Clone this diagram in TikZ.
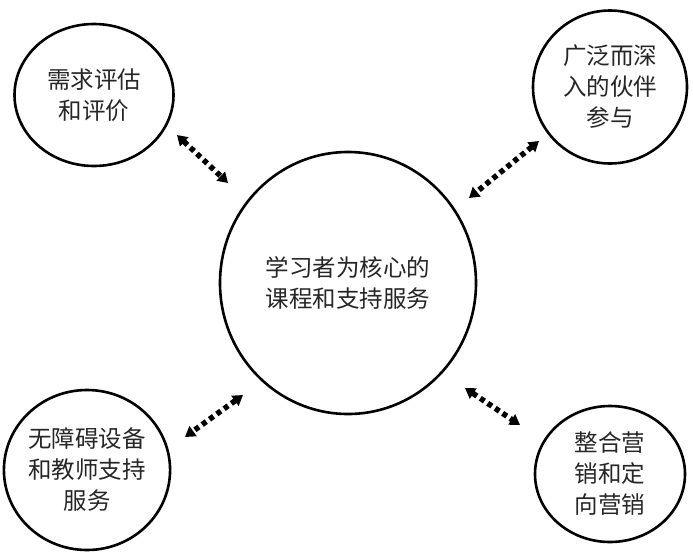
\documentclass[tikz,border=0pt]{standalone}
\usepackage{fontspec}
\newfontfamily\cjk{Noto Sans CJK SC}
\usetikzlibrary{arrows.meta,shapes.geometric}
\begin{document}
\begin{tikzpicture}[x=1pt,y=-1pt,
  bubble/.style={draw, line width=2.6pt, ellipse, inner sep=0pt, align=center,
    font=\cjk\fontsize{23.5}{31}\selectfont, text=black!85},
  arr/.style={line width=5.5pt, dash pattern=on 5pt off 4pt,
    {Triangle[length=10pt,width=12pt]}-{Triangle[length=10pt,width=12pt]}}]
\useasboundingbox (0,0) rectangle (693,552);
\fill[white] (0,0) rectangle (693,552);
\node[bubble, minimum width=256pt, minimum height=262pt] (c) at (348,283) {学习者为核心的\\课程和支持服务};
\node[bubble, minimum width=159pt, minimum height=142pt] (tl) at (94,95) {需求评估\\和评价};
\node[bubble, minimum width=154pt, minimum height=153pt] (tr) at (610,87) {广泛而深\\入的伙伴\\参与};
\node[bubble, minimum width=160pt, minimum height=160pt] (bl) at (87,470) {无障碍设备\\和教师支持\\服务};
\node[bubble, minimum width=150pt, minimum height=136pt] (br) at (610,474) {整合营\\销和定\\向营销};
\coordinate (a1s) at (177,135); \coordinate (a1e) at (228,183);
\coordinate (a2s) at (539,141); \coordinate (a2e) at (469,198);
\coordinate (a3s) at (243,395); \coordinate (a3e) at (185,437);
\coordinate (a4s) at (465,388); \coordinate (a4e) at (520,425);
\draw[arr] (a1s) -- (a1e);
\draw[arr] (a2s) -- (a2e);
\draw[arr] (a3s) -- (a3e);
\draw[arr] (a4s) -- (a4e);
\end{tikzpicture}
\end{document}
